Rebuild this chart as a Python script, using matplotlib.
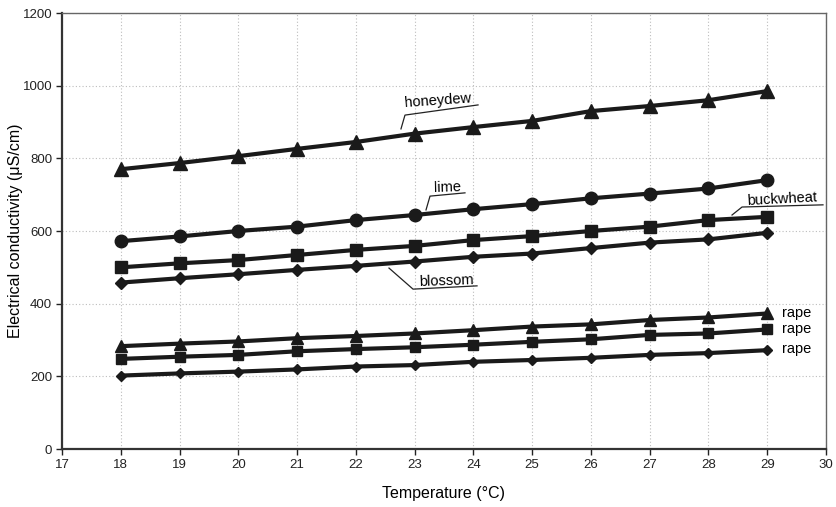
import matplotlib
matplotlib.use("Agg")
import matplotlib.pyplot as plt

plt.rcParams['font.family'] = ['Liberation Sans', 'DejaVu Sans']

temperature = [18, 19, 20, 21, 22, 23, 24, 25, 26, 27, 28, 29]

honeydew = [770, 787, 806, 826, 845, 868, 886, 903, 930, 944, 960, 985]
lime = [572, 585, 600, 612, 630, 644, 660, 674, 690, 703, 717, 740]
buckwheat = [500, 511, 520, 534, 548, 559, 575, 586, 600, 612, 630, 639]
blossom = [458, 470, 481, 493, 504, 516, 529, 538, 553, 568, 577, 595]
rape_tri = [283, 290, 296, 305, 311, 318, 327, 337, 343, 355, 362, 373]
rape_sq = [248, 254, 259, 269, 275, 280, 287, 295, 302, 314, 318, 329]
rape_dia = [202, 208, 213, 219, 227, 231, 240, 245, 251, 259, 264, 272]

x_ticks = list(range(17, 31))
y_ticks = [0, 200, 400, 600, 800, 1000, 1200]

W, H = 836, 507
fig = plt.figure(figsize=(W / 100, H / 100), dpi=100)
ax = fig.add_axes([62 / W, (H - 449) / H, 764 / W, 436 / H])

lc = '#1a1a1a'
series = [
    (honeydew, '^', 9.5),
    (lime, 'o', 9),
    (buckwheat, 's', 8.5),
    (blossom, 'D', 6),
    (rape_tri, '^', 8),
    (rape_sq, 's', 7.5),
    (rape_dia, 'D', 4.8),
]
for vals, m, ms in series:
    ax.plot(temperature, vals, color=lc, lw=3, marker=m, ms=ms,
            mfc=lc, mec=lc, zorder=3, solid_capstyle='butt')

ax.set_xlim(17, 30)
ax.set_ylim(0, 1200)
ax.set_xticks(x_ticks)
ax.set_yticks(y_ticks)
ax.grid(True, color='#bdbdbd', linestyle=(0, (1, 2)), lw=0.8, zorder=0)
ax.tick_params(direction='out', length=4, width=1, labelsize=9.5, colors='#222222', pad=3)

for side in ['left', 'bottom']:
    ax.spines[side].set_linewidth(1.6)
    ax.spines[side].set_color('#333333')
for side in ['top', 'right']:
    ax.spines[side].set_linewidth(1.0)
    ax.spines[side].set_color('#666666')

ax.set_xlabel('Temperature (°C)', fontsize=11.5, labelpad=11)
ax.set_ylabel('Electrical conductivity (μS/cm)', fontsize=11.5)
ax.yaxis.set_label_coords(-0.051, 0.5)

# annotations with leader lines
labels = [
    ('honeydew', (23.40, 960), 4, [(22.768, 881), (22.836, 919), (24.079, 947)]),
    ('lime', (23.551, 720), 2, [(23.194, 658), (23.262, 696), (23.857, 705)]),
    ('buckwheat', (29.251, 688), 3, [(28.401, 644), (28.571, 666), (29.949, 672)]),
    ('blossom', (23.534, 462), 2, [(22.564, 498), (22.973, 440), (24.062, 449)]),
]
for txt, pos, rot, pts in labels:
    ax.text(pos[0], pos[1], txt, fontsize=10.5, ha='center', va='center',
            rotation=rot, rotation_mode='anchor', zorder=5)
    xs = [p[0] for p in pts]
    ys = [p[1] for p in pts]
    ax.plot(xs, ys, color='#222222', lw=0.9, zorder=4)

for yv in [rape_tri[-1], rape_sq[-1], rape_dia[-1]]:
    ax.text(29.25, yv + 2, 'rape', fontsize=10.5, ha='left', va='center', zorder=5)

fig.savefig('out.png', dpi=100)
